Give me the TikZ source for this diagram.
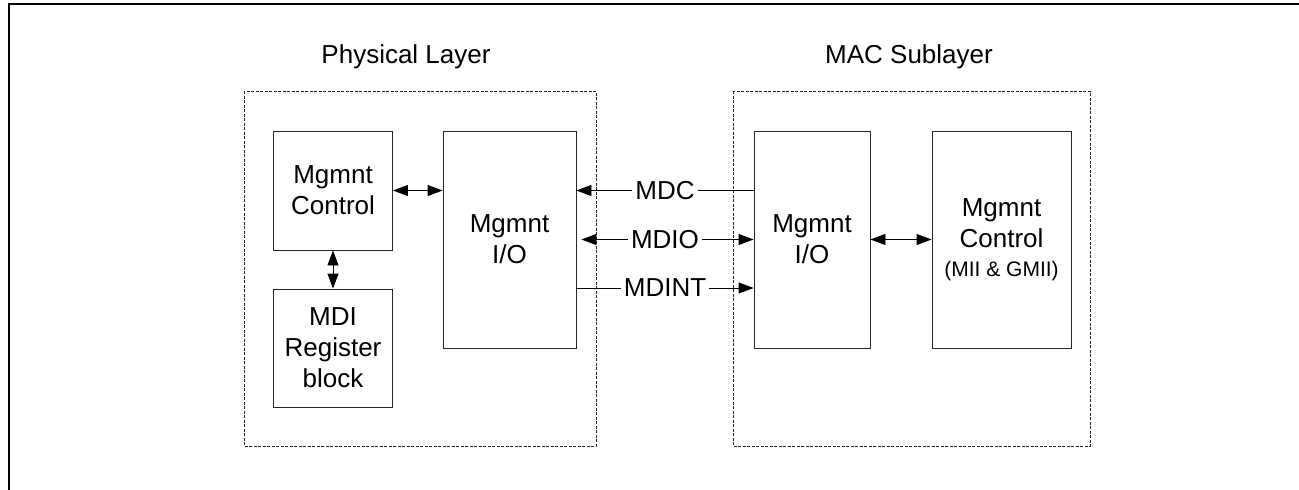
\documentclass[tikz,border=0pt]{standalone}
\usepackage{fontspec}
\setmainfont{Liberation Sans}
\usetikzlibrary{arrows.meta}

\tikzset{
    >={Triangle[length=15pt,width=11pt]},
    block/.style={draw=black!85, line width=0.9pt, align=center, inner sep=0pt,
        font=\fontsize{26}{31}\selectfont},
    layer/.style={draw=black!85, line width=0.8pt, dash pattern=on 3pt off 1.5pt},
    sig/.style={line width=0.9pt},
    siglabel/.style={fill=white, inner sep=3pt, font=\fontsize{26}{31}\selectfont},
    title/.style={font=\fontsize{26}{31}\selectfont}
}

\begin{document}
\begin{tikzpicture}[x=1pt,y=-1pt]
    \useasboundingbox (0,0) rectangle (1299,490);

    % Border
    \draw[line width=2pt] (9,490) -- (9,4) -- (1299,4);

    % Layers
    \draw[layer] (244,91) rectangle (596,446);
    \draw[layer] (733,91) rectangle (1090,446);
    \node[title] (phytitle) at (406,57) {Physical Layer};
    \node[title] (mactitle) at (909,57) {MAC Sublayer};

    % Blocks
    \node[block, minimum width=119pt, minimum height=119pt] (phyctl) at (333,190.5) {Mgmnt\\Control};
    \node[block, minimum width=119pt, minimum height=118pt] (mdireg) at (333,348) {MDI\\Register\\block};
    \node[block, minimum width=133pt, minimum height=217pt] (phyio) at (509.5,239.5) {Mgmnt\\I/O};
    \node[block, minimum width=116pt, minimum height=217pt] (macio) at (812,239.5) {Mgmnt\\I/O};
    \node[block, minimum width=139pt, minimum height=217pt] (macctl) at (1001.5,239.5)
        {Mgmnt\\Control\\[-2pt]{\fontsize{21}{25}\selectfont(MII \& GMII)}};

    % Arrows
    \draw[sig,<->] (phyctl.east) -- (phyctl.east -| phyio.west);
    \draw[sig,<->] (phyctl.south) -- (mdireg.north);
    \draw[sig,<->] (macio) -- (macctl);

    % Signals
    \draw[sig,->] (phyctl.east -| macio.west) -- node[siglabel] {MDC} (phyctl.east -| phyio.east);
    \draw[sig,<->,shorten <=5pt] (phyio) -- node[siglabel] {MDIO} (macio);
    \draw[sig,->] ([yshift=-48.5pt]phyio.east) -- node[siglabel] {MDINT} ([yshift=-48.5pt]macio.west);

\end{tikzpicture}
\end{document}
